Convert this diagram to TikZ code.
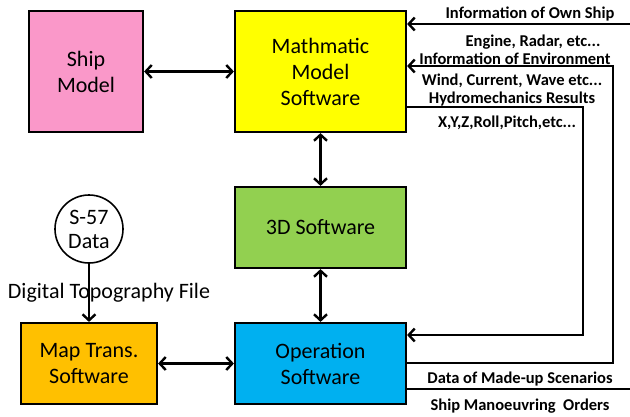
\documentclass[tikz,border=0pt]{standalone}
\usepackage{fontspec}
\setmainfont{Carlito}
\usetikzlibrary{arrows.meta}
\definecolor{cpink}{HTML}{FA98C9}
\definecolor{cyellow}{HTML}{FFFF00}
\definecolor{cgreen}{HTML}{92D050}
\definecolor{cblue}{HTML}{00B0F0}
\definecolor{corange}{HTML}{FFC000}
\tikzset{
  box/.style={draw=black, line width=2.2pt, align=center, inner sep=0pt,
    font=\fontsize{22}{26}\selectfont},
  lab/.style={inner sep=0pt, font=\bfseries\fontsize{16.5}{18}\selectfont},
  conn/.style={line width=2.4pt},
  >={Straight Barb[length=6pt,width=13pt]}
}
\begin{document}
\begin{tikzpicture}[x=1pt,y=-1pt]
\useasboundingbox (0,0) rectangle (630,416);
% boxes
\node[box, fill=cpink, minimum width=114pt, minimum height=121pt] (ship) at (86,71.5) {Ship\\Model};
\node[box, fill=cyellow, minimum width=171pt, minimum height=121pt] (math) at (320.5,71.5) {Mathmatic\\Model\\Software};
\node[box, fill=cgreen, minimum width=171pt, minimum height=81pt] (td) at (320.5,227.5) {3D Software};
\node[box, fill=cblue, minimum width=171pt, minimum height=81pt] (op) at (320.5,363.5) {Operation\\Software};
\node[box, fill=corange, minimum width=136pt, minimum height=81pt] (map) at (89,363.5) {Map Trans.\\Software};
\node[box, fill=white, circle, minimum size=68pt, line width=1.6pt, font=\fontsize{22}{24}\selectfont] (s57) at (89,229) {S-57\\Data};
\node[inner sep=0pt, font=\fontsize{22}{26}\selectfont] (dtf) at (109,293) {Digital Topography File};
% main connectors
\draw[conn, <->] (ship) -- (math);
\draw[conn, <->] (math) -- (td);
\draw[conn, <->] (td) -- (op);
\draw[conn, <->] (map) -- (op);
\draw[conn, ->] (s57) -- (map);
% right-side coordinates
\coordinate (own) at (630,24);
\coordinate (envc) at (613,66);
\coordinate (hyc) at (583,107);
\coordinate (hyo) at (583,335);
\coordinate (envo) at (613,363);
\coordinate (scen) at (630,389);
\draw[conn, ->] (own) -- (own -| math.east);
\draw[conn, ->] (envo -| op.east) -- (envo) -- (envc) -- (envc -| math.east);
\draw[conn, ->] (hyc -| math.east) -- (hyc) -- (hyo) -- (hyo -| op.east);
\draw[conn] (scen -| op.east) -- (scen);
% labels
\node[lab] (l1) at (530,14) {Information of Own Ship};
\node[lab] (l2) at (533,42) {Engine, Radar, etc...};
\node[lab] (l3) at (515,59) {Information of Environment};
\node[lab] (l4) at (512,81) {Wind, Current, Wave etc...};
\node[lab] (l5) at (512,99) {Hydromechanics Results};
\node[lab] (l6) at (507,123) {X,Y,Z,Roll,Pitch,etc...};
\node[lab] (l7) at (520,379) {Data of Made-up Scenarios};
\node[lab] (l8) at (520,406) {Ship Manoeuvring\ \ Orders};
\end{tikzpicture}
\end{document}
